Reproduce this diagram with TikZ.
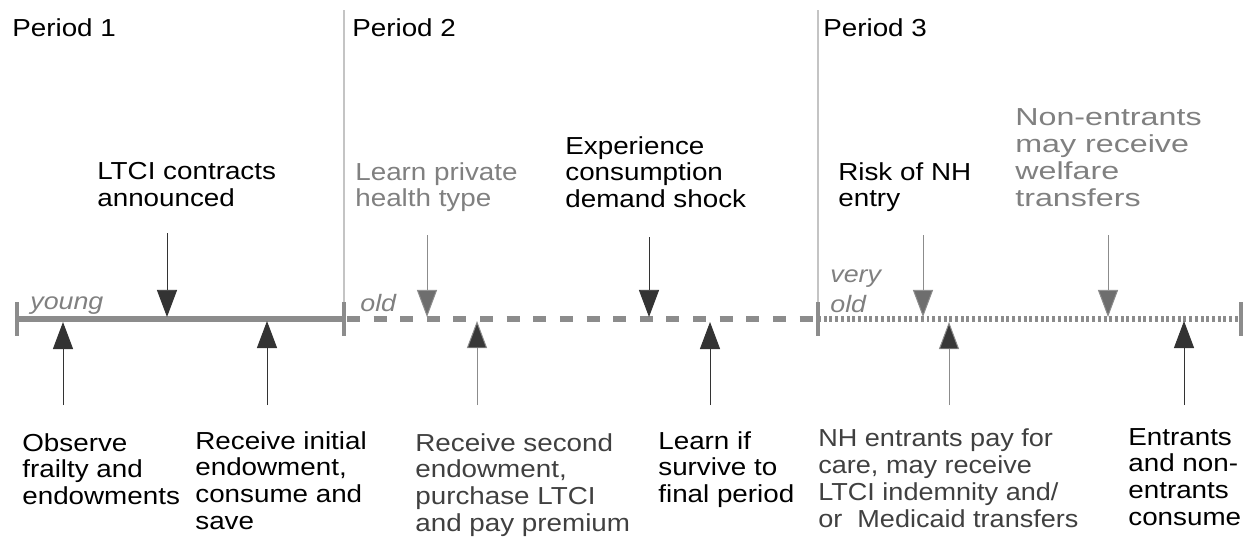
\documentclass[tikz,border=0pt]{standalone}
\usepackage{fontspec}
\setmainfont[FakeStretch=1.13]{Liberation Sans}
\newfontfamily\widefont[FakeStretch=1.31]{Liberation Sans}
\newfontfamily\narrowfont[FakeStretch=1.1]{Liberation Sans}
\usetikzlibrary{arrows.meta}
\definecolor{txtgray}{HTML}{808080}
\definecolor{txtdark}{HTML}{404040}
\definecolor{linegray}{HTML}{8C8C8C}
\definecolor{divgray}{HTML}{C4C4C4}
\definecolor{headgray}{HTML}{6E6E6E}
\definecolor{headdark}{HTML}{383838}
\tikzset{
  lbl/.style={anchor=north west, inner sep=0pt, align=left, font=\fontsize{14pt}{15.2pt}\selectfont},
  agelbl/.style={anchor=base west, inner sep=0pt, align=left, text=txtgray, font=\fontsize{13.5pt}{17pt}\selectfont\itshape},
  tline/.style={line width=3.4pt, draw=linegray},
  tickmark/.style={line width=2pt, draw=linegray},
  divider/.style={line width=0.9pt, draw=divgray},
  blackarr/.style={draw=black!80, line width=0.55pt, -{Triangle[width=11.5pt,length=15.5pt]}},
  grayarr/.style={draw=linegray, line width=0.55pt, -{Triangle[width=11.5pt,length=15.5pt,fill=headgray]}},
  darkarr/.style={draw=linegray, line width=0.55pt, -{Triangle[width=11.5pt,length=15.5pt,fill=headdark]}},
}
\begin{document}
\begin{tikzpicture}[x=0.02cm,y=-0.02cm]
\useasboundingbox (0,0) rectangle (1247,541);
% dividers
\coordinate (d1t) at (344,10); \coordinate (d1b) at (344,312);
\coordinate (d2t) at (818,10); \coordinate (d2b) at (818,312);
\draw[divider] (d1t) -- (d1b);
\draw[divider] (d2t) -- (d2b);
% timeline
\coordinate (t0) at (17,319);
\coordinate (t1) at (344,319);
\coordinate (t2) at (818,319);
\coordinate (t3) at (1241,319);
\draw[tline] (t0) -- (t1);
\draw[tline, dash pattern=on 7.4pt off 7.75pt, dash phase=-1.7pt] (t1) -- (t2);
\draw[tline, dash pattern=on 1.7pt off 1.55pt] (t2) -- (t3);
\foreach \c in {t0,t1,t2,t3}{
  \draw[tickmark] ([yshift=0.34cm]\c) -- ([yshift=-0.34cm]\c);
}
% period headings
\node[lbl] (p1) at (12,18) {Period 1};
\node[lbl] (p2) at (352,18) {Period 2};
\node[lbl] (p3) at (823,18) {Period 3};
% age labels
\node[agelbl] (young) at (30,309) {young};
\node[agelbl] (old) at (360,311) {old};
\node[agelbl] (vold) at (830,312) {very\\old};
% top labels
\node[lbl] (ltci) at (97,162) {LTCI contracts\\announced};
\node[lbl, text=txtgray] (health) at (355,162) {Learn private\\health type};
\node[lbl] (shock) at (565,136) {Experience\\consumption\\demand shock};
\node[lbl] (risk) at (838,162) {Risk of NH\\entry};
\node[lbl, text=txtgray, font=\fontsize{14pt}{15.4pt}\widefont] (welfare) at (1015,108) {Non-entrants\\may receive\\welfare\\transfers};
% bottom labels
\node[lbl] (observe) at (22,433) {Observe\\frailty and\\endowments};
\node[lbl] (initial) at (195,431) {Receive initial\\endowment,\\consume and\\save};
\node[lbl, text=txtdark] (second) at (415,433) {Receive second\\endowment,\\purchase LTCI\\and pay premium};
\node[lbl] (survive) at (658,431) {Learn if\\survive to\\final period};
\node[lbl, text=txtdark, font=\fontsize{14pt}{15.4pt}\narrowfont] (nhpay) at (818,428) {NH entrants pay for\\care, may receive\\LTCI indemnity and/\\or\ \ Medicaid transfers};
\node[lbl] (consume) at (1128,428) {Entrants\\and non-\\entrants\\consume};
% down arrows
\coordinate (a1s) at (167,233); \coordinate (a1e) at (167,317);
\coordinate (a2s) at (427,235); \coordinate (a2e) at (427,317);
\coordinate (a3s) at (649,237); \coordinate (a3e) at (649,317);
\coordinate (a4s) at (923,235); \coordinate (a4e) at (923,317);
\coordinate (a5s) at (1108,235); \coordinate (a5e) at (1108,317);
\draw[blackarr] (a1s) -- (a1e);
\draw[grayarr] (a2s) -- (a2e);
\draw[blackarr] (a3s) -- (a3e);
\draw[grayarr] (a4s) -- (a4e);
\draw[grayarr] (a5s) -- (a5e);
% up arrows
\coordinate (b1s) at (63,405); \coordinate (b1e) at (63,322);
\coordinate (b2s) at (267,405); \coordinate (b2e) at (267,321);
\coordinate (b3s) at (477,405); \coordinate (b3e) at (477,321);
\coordinate (b4s) at (710,405); \coordinate (b4e) at (710,322);
\coordinate (b5s) at (949,405); \coordinate (b5e) at (949,322);
\coordinate (b6s) at (1184,405); \coordinate (b6e) at (1184,321);
\draw[blackarr] (b1s) -- (b1e);
\draw[blackarr] (b2s) -- (b2e);
\draw[darkarr] (b3s) -- (b3e);
\draw[blackarr] (b4s) -- (b4e);
\draw[darkarr] (b5s) -- (b5e);
\draw[blackarr] (b6s) -- (b6e);
\end{tikzpicture}
\end{document}
